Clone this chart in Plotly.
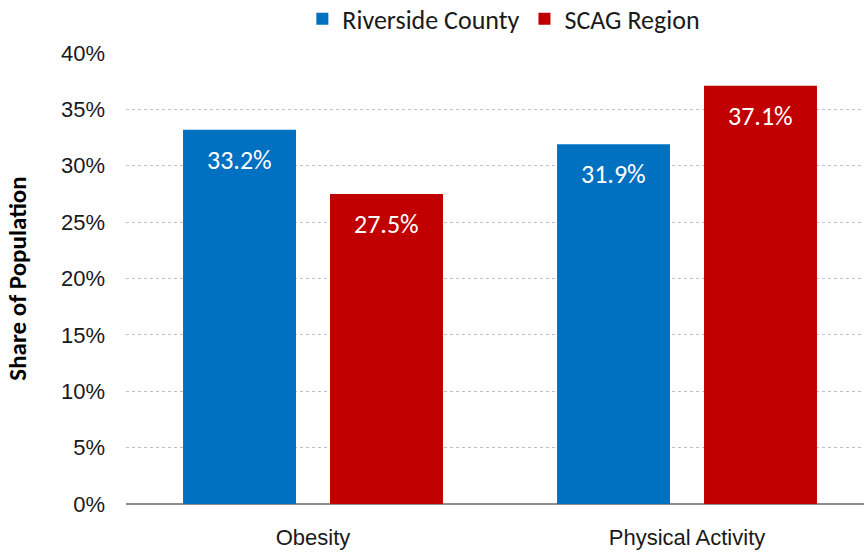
import plotly.graph_objects as go

# Health indicators compared between the county and the wider region
categories = ["Obesity", "Physical Activity"]
riverside = [33.2, 31.9]
scag = [27.5, 37.1]
y_ticks = [0, 5, 10, 15, 20, 25, 30, 35, 40]

BLUE = "#0070C0"
RED = "#C00000"
NARROW = "Liberation Sans Narrow, Arial Narrow, Arial, sans-serif"
CALIBRI = "Carlito, Calibri, Lato, sans-serif"

BAR_W = 0.302
OFFSETS = [-0.3475, 0.0455]

fig = go.Figure()
for name, vals, color, off in [
    ("Riverside County", riverside, BLUE, OFFSETS[0]),
    ("SCAG Region", scag, RED, OFFSETS[1]),
]:
    fig.add_trace(go.Bar(
        name=name,
        x=list(range(len(categories))),
        y=vals,
        width=BAR_W,
        offset=off,
        marker=dict(color=color, line=dict(width=0)),
    ))
    for i, v in enumerate(vals):
        fig.add_annotation(
            x=i + off + BAR_W / 2, y=v, xref="x", yref="y",
            text=f"{v:.1f}%", showarrow=False,
            yshift=-30, font=dict(family=CALIBRI, size=26, color="white"),
        )

fig.update_layout(
    width=864, height=552,
    margin=dict(l=126, r=0, t=53, b=48, autoexpand=False),
    paper_bgcolor="white", plot_bgcolor="white",
    showlegend=True,
    legend=dict(
        orientation="h", x=0.512, xanchor="center", y=1.128, yref="paper",
        yanchor="top", font=dict(family=CALIBRI, size=26, color="#1a1a1a"),
        itemwidth=30, traceorder="normal",
    ),
    xaxis=dict(
        tickmode="array", tickvals=list(range(len(categories))),
        ticktext=categories, range=[-0.5, -0.5 + 738 / 374],
        showgrid=False, zeroline=False, showline=False, ticks="",
        tickfont=dict(family=NARROW, size=22, color="#1a1a1a"),
        ticklabelstandoff=18,
    ),
    yaxis=dict(
        range=[0, 40], tickvals=y_ticks,
        ticktext=[f"{t}%" for t in y_ticks],
        showgrid=True, gridcolor="#BFBFBF", griddash="dot", gridwidth=1,
        zeroline=True, zerolinecolor="#8C8C8C", zerolinewidth=2,
        showline=False, ticks="",
        tickfont=dict(family=NARROW, size=22, color="#1a1a1a"),
        ticklabelstandoff=20,
        title=dict(text="<b>Share of Population</b>", standoff=27,
                   font=dict(family=CALIBRI, size=25, color="black")),
        automargin=False,
    ),
)

fig.write_html("out.html")
